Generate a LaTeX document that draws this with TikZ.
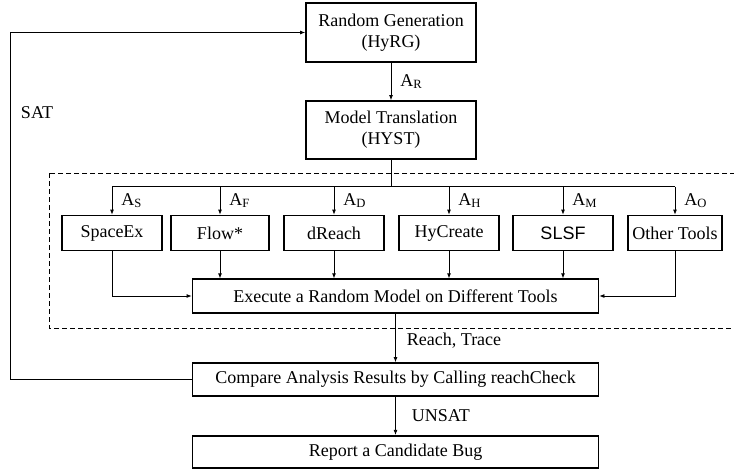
\documentclass[tikz,border=0pt]{standalone}
\usepackage{fontspec}
\setmainfont{Liberation Serif}
\newfontfamily\arialfont{Liberation Sans}
\usetikzlibrary{arrows.meta}
\newcommand{\tsub}[2]{#1\textsubscript{#2}}
\begin{document}
\begin{tikzpicture}[x=1pt,y=-1pt,
	font=\fontsize{18}{21}\selectfont,
	box/.style={draw,line width=1.8pt,inner sep=0pt,align=center,minimum width=#1},
	box/.default=406pt,
	conn/.style={line width=0.8pt,-{Latex[length=5pt,width=4pt]}},
	lbl/.style={anchor=west,inner sep=0pt}]
	\useasboundingbox (0,0) rectangle (734,471);
	\draw [line width=0.9pt,dash pattern=on 5pt off 3pt] (49,173) rectangle (745,328);
	\node [box=170pt,minimum height=59pt] (hyrg) at (391,32.5) {Random Generation\\(HyRG)};
	\node [box=170pt,minimum height=58pt] (hyst) at (391,130) {Model Translation\\(HYST)};
	\node [box=100pt,minimum height=35pt] (spaceex) at (112,233) {SpaceEx};
	\node [box=98pt,minimum height=35pt] (flow) at (220,233) {Flow*};
	\node [box=100pt,minimum height=35pt] (dreach) at (334,233) {dReach};
	\node [box=100pt,minimum height=35pt] (hycreate) at (449,233) {HyCreate};
	\node [box=100pt,minimum height=35pt] (slsf) at (563,233) {\arialfont SLSF};
	\node [box=94pt,minimum height=35pt] (other) at (675,233) {Other Tools};
	\node [box,minimum height=33.5pt] (exec) at (395.5,296) {Execute a Random Model on Different Tools};
	\node [box,minimum height=33pt] (cmp) at (395.5,379.5) {Compare Analysis Results by Calling reachCheck};
	\node [box,minimum height=32.5pt] (bug) at (395.5,452) {Report a Candidate Bug};
	\coordinate (split) at (391,186.7);
	% main chain
	\draw [conn] (hyrg) -- (hyst) node [lbl,midway,xshift=9pt] {\tsub{A}{R}};
	\draw [line width=0.8pt] (hyst) -- (split);
	\draw [line width=0.8pt] (spaceex.north |- split) -- (other.north |- split);
	\foreach \t/\s in {spaceex/S,flow/F,dreach/D,hycreate/H,slsf/M,other/O}
		\draw [conn] (\t.north |- split) -- (\t.north) node [lbl,pos=0.5,xshift=9pt] {\tsub{A}{\s}};
	\foreach \t in {flow,dreach,hycreate,slsf}
		\draw [conn] (\t.south) -- (\t.south |- exec.north);
	\draw [conn] (spaceex.south) |- (exec.west);
	\draw [conn] (other.south) |- (exec.east);
	\draw [conn] (exec.south) -- (cmp.north) node [lbl,pos=0.55,xshift=11pt] {Reach, Trace};
	\draw [conn] (cmp) -- (bug) node [lbl,midway,xshift=16pt] {UNSAT};
	% feedback loop
	\coordinate (back) at (10.5,379.5);
	\draw [conn] (cmp.west) -- (back) |- (hyrg.west);
	\node [inner sep=0pt] (sat) at (37,113) {SAT};
\end{tikzpicture}
\end{document}
